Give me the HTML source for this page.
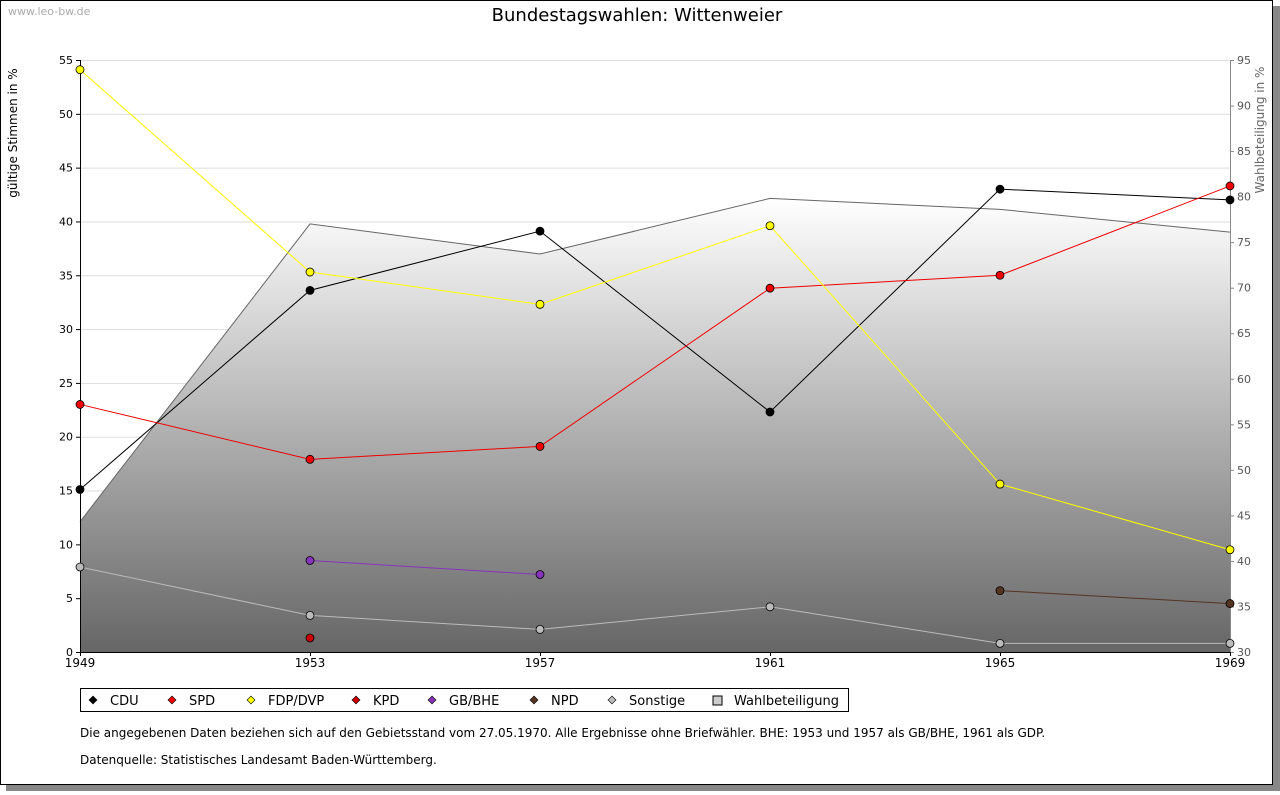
<!DOCTYPE html>
<html><head><meta charset="utf-8"><style>
body{margin:0;background:#fff;font-family:"DejaVu Sans",sans-serif;}
#wrap{position:relative;width:1280px;height:791px;}
</style></head><body>
<div id="wrap">
<svg id="svg" width="1280" height="791" xmlns="http://www.w3.org/2000/svg" font-family="DejaVu Sans, sans-serif">
<defs>
<linearGradient id="g" x1="0" y1="0" x2="0" y2="1"><stop offset="0" stop-color="#ffffff"/><stop offset="1" stop-color="#666666"/></linearGradient>
</defs>
<rect x="6" y="6" width="1274" height="785" fill="#888"/>
<rect x="0.5" y="0.5" width="1272" height="784" fill="#fff" stroke="#000"/>
<text x="8" y="15" font-size="11" fill="#aaa">www.leo-bw.de</text>
<text x="637" y="21" font-size="18" text-anchor="middle">Bundestagswahlen:  Wittenweier</text>
<text transform="translate(17,133) rotate(-90)" font-size="12" text-anchor="middle">gültige Stimmen in %</text>
<text transform="translate(1264,130) rotate(-90)" font-size="12" text-anchor="middle" fill="#666">Wahlbeteiligung in %</text>
<g id="grid"></g><g id="area"></g><g id="axes"></g><g id="lines"></g>
<g id="legend">
<rect x="80.5" y="688.5" width="768" height="23" fill="#fff" stroke="#000"/>
</g>
<text x="80" y="737" font-size="12">Die angegebenen Daten beziehen sich auf den Gebietsstand vom 27.05.1970. Alle Ergebnisse ohne Briefwähler. BHE: 1953 und 1957 als GB/BHE, 1961 als GDP.</text>
<text x="80" y="764" font-size="12">Datenquelle: Statistisches Landesamt Baden-Württemberg.</text>
</svg>
</div>
<script>
const years=[1949,1953,1957,1961,1965,1969];
const leftTicks=[0,5,10,15,20,25,30,35,40,45,50,55];
const rightTicks=[30,35,40,45,50,55,60,65,70,75,80,85,90,95];
const cdu=[15.1,33.6,39.1,22.3,43.0,42.0];
const spd=[23.0,17.9,19.1,33.8,35.0,43.3];
const fdp=[54.1,35.3,32.3,39.6,15.6,9.5];
const kpd=[null,1.3,null,null,null,null];
const bhe=[null,8.5,7.2,null,null,null];
const npd=[null,null,null,null,5.7,4.5];
const sonst=[7.9,3.4,2.1,4.2,0.8,0.8];
const turnout=[44.3,77.0,73.7,79.8,78.6,76.1];
const NS='http://www.w3.org/2000/svg';
const X0=80,X1=1230,YT=60,YB=652;
const x=v=>X0+(v-1949)/(1969-1949)*(X1-X0);
const y=v=>YB-v/55*(YB-YT);
const y2=v=>YB-(v-30)/65*(YB-YT);
function mk(p,t,a){const e=document.createElementNS(NS,t);for(const k in a)e.setAttribute(k,a[k]);p.appendChild(e);return e;}
const grid=document.getElementById('grid'),axes=document.getElementById('axes'),area=document.getElementById('area'),lines=document.getElementById('lines');
leftTicks.forEach(t=>{const l=mk(grid,'line',{x1:X0,x2:X1,y1:y(t)+.5,y2:y(t)+.5,stroke:'#ddd'});

const tx=mk(axes,'text',{x:73,y:y(t)+4,'font-size':11,'text-anchor':'end'});tx.textContent=t;

mk(axes,'line',{x1:X0-4,x2:X0,y1:y(t)+.5,y2:y(t)+.5,stroke:'#000'});});
rightTicks.forEach(t=>{const tx=mk(axes,'text',{x:1237,y:y2(t)+4,'font-size':11,fill:'#555'});tx.textContent=t;

mk(axes,'line',{x1:X1,x2:X1+4,y1:y2(t)+.5,y2:y2(t)+.5,stroke:'#888'});});
years.forEach(v=>{const tx=mk(axes,'text',{x:x(v),y:667,'font-size':12,'text-anchor':'middle'});tx.textContent=v;

mk(axes,'line',{x1:x(v)+.5,x2:x(v)+.5,y1:YB,y2:YB+4,stroke:'#000'});});
let pts=years.map((v,i)=>x(v)+','+y2(turnout[i])).join(' ');
const ar=mk(area,'polygon',{points:X0+','+YB+' '+pts+' '+X1+','+YB,fill:'url(#g)',stroke:'none'});

const al=mk(area,'polyline',{points:pts,fill:'none',stroke:'#666'});

mk(axes,'line',{x1:X0+.5,x2:X0+.5,y1:YT,y2:YB,stroke:'#000'});
mk(axes,'line',{x1:X0,x2:X1,y1:YB+.5,y2:YB+.5,stroke:'#000'});
mk(axes,'line',{x1:X1+.5,x2:X1+.5,y1:YT,y2:YB,stroke:'#888'});
const series=[['cdu',cdu,'#000','#000'],['spd',spd,'#e00','#e00'],['fdp',fdp,'#ff0','#ff0'],['kpd',kpd,'#c00','#c00'],['gb-bhe',bhe,'#8833bb','#8833bb'],['npd',npd,'#553322','#553322'],['sonstige',sonst,'#bbb','#bbb']];
series.forEach(([n,d,c,f])=>{let seg=[];
const flush=()=>{if(seg.length>1){const pl=mk(lines,'polyline',{points:seg.join(' '),fill:'none',stroke:c});}seg=[];};
d.forEach((v,i)=>{if(v==null){flush();return;}seg.push(x(years[i])+','+y(v));});flush();
d.forEach((v,i)=>{if(v==null)return;const ci=mk(lines,'circle',{cx:x(years[i]),cy:y(v),r:4,fill:f,stroke:'#000','stroke-width':0.8});
});});
const leg=document.getElementById('legend');
const items=[['CDU','#000',93],['SPD','#e00',172],['FDP/DVP','#ff0',251],['KPD','#c00',356],['GB/BHE','#8833bb',432],['NPD','#553322',534],['Sonstige','#bbb',612],['Wahlbeteiligung','#ccc',717]];
items.forEach(([t,c,lx],i)=>{let m;
if(i<7){m=mk(leg,'polygon',{points:`${lx},${696} ${lx+4},${700} ${lx},${704} ${lx-4},${700}`,fill:c,stroke:'#000','stroke-width':0.6});}
else{m=mk(leg,'rect',{x:lx-4,y:696,width:9,height:9,fill:c,stroke:'#000'});}

const tx=mk(leg,'text',{x:lx+17,y:705,'font-size':13});tx.textContent=t;
});
</script>
</body></html>
